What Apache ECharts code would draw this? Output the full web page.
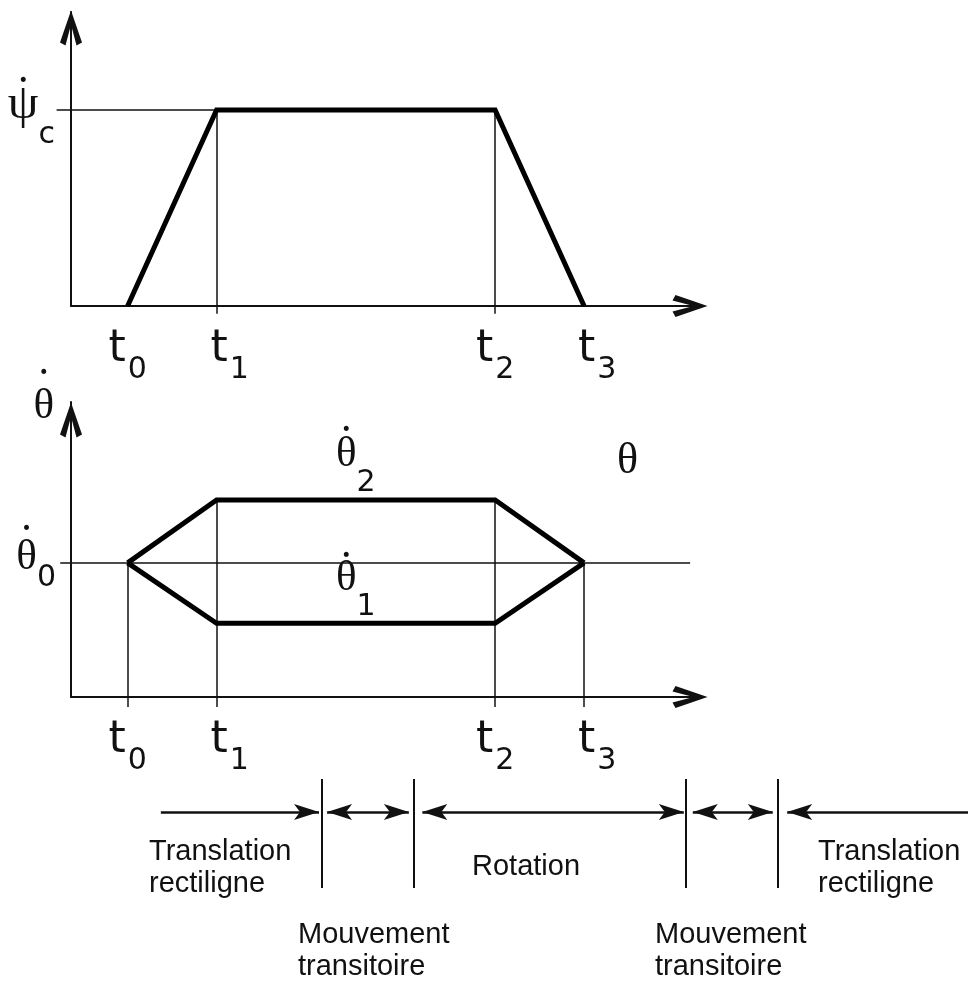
<!DOCTYPE html>
<html><head><meta charset="utf-8">
<script src="https://cdn.jsdelivr.net/npm/echarts@6/dist/echarts.min.js"></script>
<style>html,body{margin:0;padding:0;background:#fff}#c{width:968px;height:982px}</style>
</head><body><div id="c"></div><script>
// ---- data ----
const tTicks = [0.63, 1.62, 4.72, 5.71];          // t0..t3
const tSubs = ['0', '1', '2', '3'];
const psiLevel = 1;                                // psi-dot c
const psiProfile = [0, 1, 1, 0];
const theta0 = 1;                                  // theta-dot 0
const theta2Profile = [1, 1.47, 1.47, 1];
const theta1Profile = [1, 0.55, 0.55, 1];
const phaseStart = 1.0;
const phaseBounds = [2.79, 3.81, 6.84, 7.87];
const phaseEnd = 10.0;
const phaseCaptions = ['Translation\nrectiligne', 'Mouvement\ntransitoire', 'Rotation', 'Mouvement\ntransitoire', 'Translation\nrectiligne'];

// ---- styles ----
const INK = '#111';
const AX = { color: INK, width: 2 };
const CHEV = 'path://M11,0 L22,32 L16.5,35 L11,14 L5.5,35 L0,32 Z';
const HEAD = 'path://M8,0 M8,25 L16,50 L8,44 L0,50 Z';
const SERIF = 'Liberation Serif';
const SANS = 'DejaVu Sans';
const CAPF = '29px "Liberation Sans"';
const DOT = '\u2022', DOT_SIZE = 17, SUB_SIZE = 30, H = 10;

const mctx = document.createElement('canvas').getContext('2d');
function tw(text, size, fam) { mctx.font = size + 'px "' + fam + '"'; return mctx.measureText(text).width; }

// symbol with a dot above and an optional subscript, as two-line rich text.
// o.dotY / o.symY / o.subY: vertical centres measured from the top of the block, o.C: block height
function dotted(key, sym, sub, o) {
  const symW = tw(sym, o.symSize, SERIF);
  const subW = sub ? tw(sub, SUB_SIZE, SANS) : 0;
  const dotW = tw(DOT, DOT_SIZE, SANS);
  const padR = o.align === 'right' ? subW + (symW - dotW) / 2 : subW;
  const rich = {};
  rich[key + 'd'] = Object.assign({ fontFamily: SANS, fontSize: DOT_SIZE, color: INK, verticalAlign: 'top', height: H, lineHeight: 1,
    padding: [o.dotY - H / 2, padR, 0, 0] }, o.dotStyle || {});
  rich[key + 'g'] = { fontFamily: SERIF, fontSize: o.symSize, color: INK, verticalAlign: 'top', height: H, lineHeight: o.C - 1,
    padding: [o.symY - 1 - H / 2, 0, 0, 0] };
  rich[key + 's'] = { fontFamily: SANS, fontSize: SUB_SIZE, color: INK, verticalAlign: 'top', height: H, lineHeight: o.C - 1,
    padding: [(o.subY || 0) - 1 - H / 2, 0, 0, 0] };
  const text = '{' + key + 'd|' + DOT + '}\n{' + key + 'g|' + sym + '}' + (sub ? '{' + key + 's|' + sub + '}' : '');
  return { text, rich };
}

const PSI = dotted('p', '\u03C8', 'c', { align: 'right', symSize: 49, C: 72, dotY: 8, symY: 31, subY: 61 });
const TH0 = dotted('a', '\u03B8', '0', { align: 'right', symSize: 43, C: 86, dotY: 10, symY: 37.5, subY: 58.5 });
const THN = dotted('n', '\u03B8', '', { align: 'right', symSize: 43, C: 74, dotY: 9, symY: 42 });
const TH2 = dotted('b', '\u03B8', '2', { align: 'center', symSize: 43, C: 65, dotY: 4, symY: 28, subY: 56.5 });
const TH1 = dotted('c', '\u03B8', '1', { align: 'center', symSize: 43, C: 66, dotY: 4, symY: 26.5, subY: 54.5,
  dotStyle: { textBorderColor: '#fff', textBorderWidth: 7 } });

const tRich = {
  t:  { fontFamily: SANS, fontSize: 44, color: INK, verticalAlign: 'top', height: H, lineHeight: 56, padding: [15, 2, 0, 0] },
  tS: { fontFamily: SANS, fontSize: 44, color: INK, verticalAlign: 'top', height: H, lineHeight: 56, padding: [15, 2, 0, 26] },
  s:  { fontFamily: SANS, fontSize: SUB_SIZE, color: INK, verticalAlign: 'top', height: H, lineHeight: 56, padding: [35, 0, 0, 0] }
};

const chart = echarts.init(document.getElementById('c'), null, { renderer: 'canvas' });

const pts = (ys) => tTicks.map((t, i) => [t, ys[i]]);
const t0 = tTicks[0], t1 = tTicks[1], t2 = tTicks[2], t3 = tTicks[3];

const hidden = { show: false };
function valX(gi) {
  return {
    gridIndex: gi, type: 'value', min: 0, max: 7,
    axisLine: { show: true, onZero: false, symbol: ['none', CHEV], symbolSize: [22, 36], symbolOffset: [0, -10], lineStyle: AX },
    axisTick: hidden, splitLine: hidden,
    axisLabel: {
      show: true, customValues: tTicks, margin: 24,
      formatter: (v) => { const i = tTicks.indexOf(v); return '{' + (i % 2 ? 'tS' : 't') + '|t}{s|' + tSubs[i] + '}'; },
      rich: tRich
    }
  };
}

// caption anchors (pixel layout of the phase strip text)
const capPos = [[149, 836], [298, 919], [472, 851], [655, 919], [818, 836]];

const option = {
  animation: false,
  backgroundColor: '#fff',
  grid: [
    { left: 71, right: 268, top: 12, height: 294 },
    { left: 71, right: 268, top: 402, height: 295 },
    { left: 71, right: 268, top: 760, height: 140 }
  ],
  xAxis: [ valX(0), valX(1), { gridIndex: 2, type: 'value', min: 0, max: 7, show: false } ],
  yAxis: [
    {
      gridIndex: 0, type: 'value', min: 0, max: 1.5,
      axisLine: { show: true, symbol: ['none', CHEV], symbolSize: [22, 36], symbolOffset: [0, -16], lineStyle: AX },
      axisTick: hidden, splitLine: hidden,
      axisLabel: { show: true, customValues: [psiLevel], margin: 16, formatter: () => PSI.text, rich: PSI.rich }
    },
    {
      gridIndex: 1, type: 'value', min: 0, max: 2.2,
      name: THN.text, nameLocation: 'end', nameGap: 0,
      nameTextStyle: { align: 'right', verticalAlign: 'middle', padding: [0, 17, 0, 0], rich: THN.rich },
      axisLine: { show: true, symbol: ['none', CHEV], symbolSize: [22, 36], symbolOffset: [0, -18], lineStyle: AX },
      axisTick: hidden, splitLine: hidden,
      axisLabel: { show: true, customValues: [theta0], margin: 15, formatter: () => TH0.text, rich: TH0.rich }
    },
    { gridIndex: 2, type: 'value', min: 0, max: 14, show: false }
  ],
  series: [
    { // thin guide lines, top
      type: 'lines', coordinateSystem: 'cartesian2d', xAxisIndex: 0, yAxisIndex: 0, clip: false,
      lineStyle: { color: INK, width: 1.5, opacity: 1 },
      data: [
        { coords: [[-0.16, psiLevel], [t1, psiLevel]] },
        { coords: [[t1, psiLevel], [t1, -0.04]] },
        { coords: [[t2, psiLevel], [t2, -0.04]] }
      ]
    },
    { // thin guide lines, bottom
      type: 'lines', coordinateSystem: 'cartesian2d', xAxisIndex: 1, yAxisIndex: 1, clip: false,
      lineStyle: { color: INK, width: 1.5, opacity: 1 },
      data: [
        { coords: [[-0.12, theta0], [6.89, theta0]] },
        { coords: [[t0, theta0], [t0, -0.075]] },
        { coords: [[t1, theta2Profile[1]], [t1, -0.075]] },
        { coords: [[t2, theta2Profile[2]], [t2, -0.075]] },
        { coords: [[t3, theta0], [t3, -0.075]] }
      ]
    },
    {
      type: 'line', xAxisIndex: 0, yAxisIndex: 0, data: pts(psiProfile), symbol: 'none', clip: false,
      lineStyle: { color: '#000', width: 5, join: 'miter' }
    },
    {
      type: 'line', xAxisIndex: 1, yAxisIndex: 1, data: pts(theta2Profile), symbol: 'none', clip: false,
      lineStyle: { color: '#000', width: 5, join: 'miter' },
      markPoint: {
        symbol: 'circle', symbolSize: 0,
        data: [{ coord: [(t1 + t2) / 2, theta2Profile[1]] }],
        label: { show: true, position: 'top', distance: 8, formatter: TH2.text, rich: TH2.rich }
      }
    },
    {
      type: 'line', xAxisIndex: 1, yAxisIndex: 1, data: pts(theta1Profile), symbol: 'none', clip: false,
      lineStyle: { color: '#000', width: 5, join: 'miter' },
      markPoint: {
        symbol: 'circle', symbolSize: 0,
        data: [{ coord: [(t1 + t2) / 2, theta1Profile[1]] }],
        label: { show: true, position: 'top', distance: 5, formatter: TH1.text, rich: TH1.rich }
      }
    },
    { // phase dividers
      type: 'lines', coordinateSystem: 'cartesian2d', xAxisIndex: 2, yAxisIndex: 2, clip: false,
      lineStyle: { color: INK, width: 2, opacity: 1 },
      data: phaseBounds.map((b) => ({ coords: [[b, 12.1], [b, 1.2]] }))
    },
    { // phase arrows
      type: 'lines', coordinateSystem: 'cartesian2d', xAxisIndex: 2, yAxisIndex: 2, clip: false,
      symbolSize: [[16, 50], [16, 50]],
      lineStyle: { color: INK, width: 2.5, opacity: 1 },
      data: [
        { coords: [[phaseStart, 8.8], [phaseBounds[0] - 0.03, 8.8]], symbol: ['none', HEAD] },
        { coords: [[phaseBounds[0] + 0.06, 8.8], [phaseBounds[1] - 0.05, 8.8]], symbol: [HEAD, HEAD] },
        { coords: [[phaseBounds[1] + 0.1, 8.8], [phaseBounds[2] - 0.02, 8.8]], symbol: [HEAD, HEAD] },
        { coords: [[phaseBounds[2] + 0.08, 8.8], [phaseBounds[3] - 0.06, 8.8]], symbol: [HEAD, HEAD] },
        { coords: [[phaseBounds[3] + 0.1, 8.8], [phaseEnd, 8.8]], symbol: [HEAD, 'none'] }
      ]
    }
  ],
  graphic: [
    { type: 'text', left: 617, top: 439, style: { text: '\u03B8', font: '44px "Liberation Serif"', fill: INK } }
  ].concat(phaseCaptions.map((c, i) => ({
    type: 'text', left: capPos[i][0], top: capPos[i][1],
    style: { text: c, font: CAPF, lineHeight: 32, fill: INK }
  })))
};
chart.setOption(option);
</script></body></html>
